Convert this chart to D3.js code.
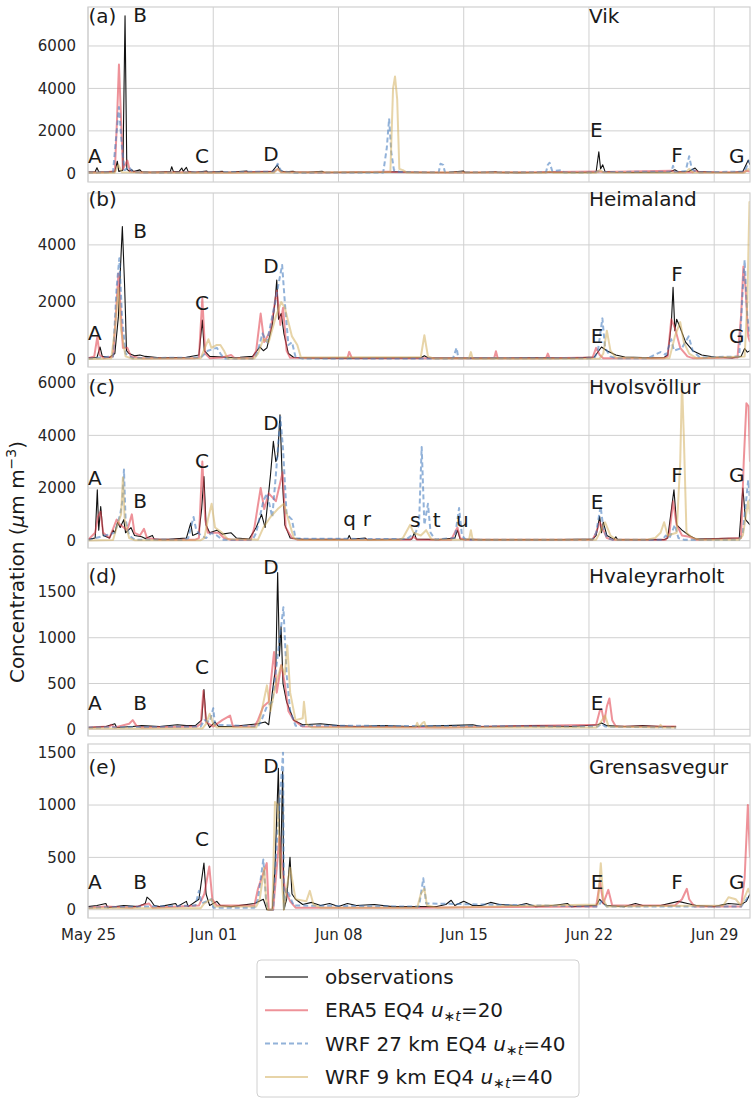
<!DOCTYPE html>
<html><head><meta charset="utf-8">
<script src="https://cdn.jsdelivr.net/npm/d3@7"></script>
<style>body{margin:0;background:#fff} text{font-family:"DejaVu Sans",sans-serif}</style>
</head><body><svg id="c" width="754" height="1101"></svg>
<script>
// ---------- axis data ----------
const tickDays=[0,7,14,21,28,35];
const tickLabels=["May 25","Jun 01","Jun 08","Jun 15","Jun 22","Jun 29"];
const stations=["Vik","Heimaland","Hvolsvöllur","Hvaleyrarholt","Grensasvegur"];
const panelTags=["(a)","(b)","(c)","(d)","(e)"];
const yTicksA=[0,2000,4000,6000], yTicksB=[0,2000,4000], yTicksC=[0,2000,4000,6000], yTicksD=[0,500,1000,1500], yTicksE=[0,500,1000,1500];
const titleValues=[7090,5344,5560,1594,1297];

// ---------- series: [day since May 25, concentration] ----------
// (a) Vik
const vikObs=[[0,60],[0.4,70],[0.5,260],[0.6,70],[1.0,60],[1.5,80],[1.64,570],[1.72,90],[1.95,150],[2.07,7420],[2.17,200],[2.3,100],[2.44,170],[2.55,80],[2.9,160],[3.0,70],[3.5,50],[4.0,60],[4.6,80],[4.68,310],[4.78,70],[5.1,90],[5.24,250],[5.32,90],[5.5,280],[5.6,80],[6.0,50],[6.63,110],[6.7,50],[7.52,90],[7.6,50],[8.0,60],[8.87,110],[8.95,60],[9.5,70],[10.3,90],[10.58,390],[10.75,120],[11.0,70],[11.46,100],[11.6,60],[12.3,50],[13.1,90],[13.2,50],[14,40],[15,50],[16,40],[16.8,60],[17.2,70],[18,50],[19,40],[20.2,50],[20.98,110],[21.05,40],[22.0,40],[22.8,70],[22.9,40],[24,30],[25,40],[25.8,60],[26.5,50],[27.5,40],[28.4,60],[28.55,1010],[28.65,200],[28.77,400],[28.9,80],[29.5,50],[30.5,40],[31.5,50],[32.5,60],[32.8,170],[33.0,60],[33.6,100],[33.93,250],[34.1,80],[35,50],[36,40],[36.6,80],[36.9,620],[37,400]];
const vikEra5=[[0,40],[1.0,50],[1.5,100],[1.62,2500],[1.73,5130],[1.85,2500],[1.95,200],[2.2,600],[2.35,80],[3,40],[5,50],[8,40],[10.4,80],[10.6,200],[10.8,60],[13,40],[16.8,70],[17,60],[20,40],[25,50],[28.5,80],[28.8,60],[32.6,120],[32.8,60],[33.8,50],[33.9,120],[34.2,50],[36.6,50],[36.8,120],[37,80]];
const vikWrf27=[[0,30],[1.4,60],[1.55,1500],[1.73,3120],[1.9,1200],[2.05,150],[2.3,300],[2.5,50],[4,30],[10.4,80],[10.6,450],[10.8,100],[11.5,30],[16.5,40],[16.7,1200],[16.83,2580],[16.95,1000],[17.1,150],[17.4,60],[19.6,50],[19.7,450],[19.85,400],[19.95,50],[25.6,50],[25.7,400],[25.8,500],[25.95,100],[26.5,150],[26.6,40],[28.3,40],[28.5,100],[28.7,60],[32.6,80],[32.7,350],[32.8,60],[33.4,100],[33.6,800],[33.75,200],[34,50],[36.7,80],[36.95,600],[37,500]];
const vikWrf9=[[0,20],[1.5,30],[1.7,400],[1.9,50],[5,30],[10.4,30],[10.6,200],[10.8,40],[16.9,60],[17.05,4000],[17.16,4560],[17.28,3500],[17.4,200],[17.6,150],[17.8,40],[25.6,30],[25.8,80],[26,30],[28.4,30],[28.6,150],[28.8,40],[33.4,30],[33.6,200],[33.8,40],[36.7,30],[36.9,200],[37,150]];
// (b) Heimaland
const heiObs=[[0,50],[0.5,60],[0.67,430],[0.8,100],[1.2,60],[1.5,200],[1.7,1500],[1.8,3000],[1.92,4640],[2.05,2500],[2.1,1480],[2.15,300],[2.3,200],[2.6,120],[2.9,150],[3.2,100],[3.6,80],[4.0,50],[5.5,70],[6.2,150],[6.39,1370],[6.5,300],[6.8,100],[7.5,80],[8.0,60],[8.5,70],[9.2,100],[9.6,430],[9.8,300],[10.0,400],[10.3,1200],[10.45,2000],[10.55,2770],[10.65,1400],[10.8,1600],[10.95,900],[11.2,200],[11.5,60],[13,40],[15,40],[18,50],[18.6,50],[18.8,120],[19,50],[22,40],[25,50],[27,40],[28.3,80],[28.55,300],[28.7,430],[29.0,300],[29.5,150],[30,80],[31.5,50],[32.2,60],[32.4,150],[32.6,1200],[32.7,2515],[32.8,1000],[32.9,1400],[33.1,1100],[33.4,600],[33.8,300],[34.3,150],[35,80],[36,50],[36.5,100],[36.7,375],[36.85,250],[37,300]];
const heiEra5=[[0,30],[0.35,100],[0.52,780],[0.65,150],[0.9,40],[1.4,100],[1.55,1500],[1.7,3000],[1.85,1500],[1.95,400],[2.2,400],[2.4,100],[3,40],[6.0,40],[6.2,60],[6.39,2130],[6.55,200],[6.8,40],[7.5,60],[8.0,150],[8.2,40],[9.2,40],[9.4,300],[9.65,1600],[9.85,600],[10.2,1000],[10.55,2400],[10.75,1200],[10.9,1800],[11.1,300],[11.3,50],[14.5,40],[14.6,260],[14.75,40],[20.5,40],[22.7,40],[22.8,280],[22.9,40],[25.6,40],[25.7,200],[25.8,40],[28.2,60],[28.4,400],[28.6,150],[28.8,40],[32.2,40],[32.4,100],[32.6,1400],[32.8,1100],[33.1,400],[33.5,100],[33.8,40],[36.3,60],[36.5,1500],[36.63,3240],[36.75,2500],[36.9,800],[37,600]];
const heiWrf27=[[0,20],[1.4,100],[1.6,2500],[1.75,3530],[1.9,1500],[2.1,200],[2.5,40],[6.3,60],[6.45,150],[6.7,300],[7.2,400],[7.4,200],[7.6,30],[9.3,30],[9.5,300],[9.75,900],[10.0,600],[10.4,1800],[10.85,3300],[11.0,2000],[11.2,500],[11.4,600],[11.6,80],[12,30],[20.4,30],[20.6,400],[20.7,40],[28.3,40],[28.5,300],[28.75,1430],[28.9,400],[29.2,100],[29.5,40],[31.3,40],[31.5,100],[32.0,250],[32.3,150],[32.6,700],[32.75,300],[33.2,400],[33.57,800],[33.8,300],[34.2,60],[36.4,100],[36.6,2500],[36.7,3470],[36.85,1500],[37,800]];
const heiWrf9=[[0,10],[1.3,30],[1.5,1000],[1.7,2500],[1.85,1000],[2.1,100],[2.5,20],[6.3,40],[6.6,500],[6.73,700],[6.9,400],[7.2,500],[7.4,500],[7.6,300],[7.8,30],[9.3,30],[9.5,200],[9.8,700],[10.1,600],[10.5,1500],[10.8,2000],[11.0,1800],[11.4,800],[11.7,500],[11.9,60],[18.6,80],[18.8,840],[19.0,100],[19.3,30],[21.3,40],[21.4,250],[21.5,20],[28.6,30],[28.8,200],[29.0,1000],[29.2,300],[29.5,60],[31.5,40],[32.5,40],[32.8,800],[33.1,1300],[33.3,600],[33.6,200],[34,40],[36.7,100],[36.85,2000],[36.97,5500],[37,5400]];
// (c) Hvolsvöllur
const hvoObs=[[0,50],[0.4,100],[0.52,1935],[0.6,400],[0.71,1300],[0.85,200],[1.2,100],[1.4,400],[1.5,300],[1.65,700],[1.8,500],[2.0,800],[2.1,300],[2.4,500],[2.6,200],[3.0,150],[3.2,80],[3.6,200],[3.7,60],[4.5,50],[5.5,100],[5.74,670],[5.85,200],[6.2,300],[6.35,1200],[6.48,2440],[6.6,600],[6.8,300],[7.2,400],[7.5,250],[8.0,300],[8.3,100],[9.0,60],[9.4,500],[9.7,1000],[9.9,500],[10.2,2500],[10.36,3770],[10.5,3000],[10.6,3200],[10.73,4780],[10.85,2500],[11.0,600],[11.3,100],[12,50],[14.5,50],[14.6,200],[14.7,50],[15.5,100],[15.6,40],[18.1,60],[18.24,300],[18.35,60],[19.6,40],[20.5,100],[20.65,400],[20.8,60],[22,40],[26.5,40],[27.5,50],[28.2,50],[28.4,200],[28.6,920],[28.7,300],[28.8,700],[29.0,200],[29.4,50],[29.5,150],[29.6,40],[32.2,40],[32.4,100],[32.75,1935],[32.9,600],[33.2,400],[33.6,200],[34,60],[36.4,100],[36.6,2000],[36.75,800],[37,600]];
const hvoEra5=[[0,30],[0.4,300],[0.55,900],[0.7,1100],[0.85,300],[1.2,100],[1.6,800],[1.8,600],[2.2,400],[2.45,1000],[2.6,300],[2.9,200],[3.13,450],[3.3,100],[4,40],[6.0,40],[6.2,100],[6.39,3010],[6.55,800],[6.7,300],[7.3,300],[7.6,100],[8,40],[9.1,40],[9.3,500],[9.65,2000],[9.85,1200],[10.1,1800],[10.5,1500],[10.88,2600],[11.05,500],[11.4,100],[11.7,40],[18.0,40],[18.2,150],[18.4,40],[20.3,40],[20.5,300],[20.65,500],[20.8,100],[21,40],[28.2,40],[28.4,300],[28.6,700],[28.8,400],[29.0,100],[29.3,40],[32.3,40],[32.5,300],[32.7,1500],[32.9,600],[33.2,200],[33.6,150],[34,40],[36.5,100],[36.65,3000],[36.8,5220],[36.92,5100],[37,3000]];
const hvoWrf27=[[0,20],[1.5,300],[1.8,1000],[1.92,1500],[2.01,2700],[2.1,800],[2.3,200],[2.6,40],[5.4,30],[5.6,100],[5.9,900],[6.05,400],[6.3,200],[6.6,100],[6.9,300],[7.2,200],[7.5,40],[9.2,40],[9.4,300],[9.8,1500],[10.0,1800],[10.3,900],[10.5,2500],[10.75,4700],[10.9,3500],[11.1,1000],[11.4,800],[11.6,80],[17.8,60],[18.3,300],[18.5,600],[18.65,3560],[18.8,600],[19.0,1400],[19.15,300],[19.4,50],[20.5,100],[20.74,1240],[20.9,200],[21.1,40],[28.2,40],[28.4,300],[28.65,1300],[28.8,500],[29.0,100],[29.3,40],[32.1,40],[32.3,200],[32.5,100],[32.8,600],[33.0,100],[33.3,40],[36.4,40],[36.6,300],[36.9,2300],[37,1500]];
const hvoWrf9=[[0,10],[1.4,30],[1.6,500],[1.85,1000],[1.95,2400],[2.05,800],[2.3,100],[2.6,20],[6.3,20],[6.5,100],[6.7,800],[6.91,1400],[7.1,500],[7.5,300],[7.8,60],[9.5,40],[9.8,500],[10.2,900],[10.6,1200],[10.95,1400],[11.2,800],[11.5,100],[11.8,30],[17.4,30],[17.6,100],[18.0,600],[18.2,300],[18.6,200],[18.9,400],[19.2,50],[20.5,40],[21.3,50],[21.4,400],[21.5,40],[28.4,40],[28.6,300],[28.9,700],[29.2,200],[29.5,40],[31.3,50],[31.7,100],[32.0,300],[32.2,700],[32.4,200],[32.9,300],[33.1,3000],[33.2,6050],[33.3,4000],[33.45,300],[33.8,100],[34.2,40],[36.4,40],[36.6,200],[36.9,1500],[37,1000]];
// (d) Hvaleyrarholt
const hvaObs=[[0,20],[1,30],[1.5,60],[1.6,20],[2.5,30],[3,40],[4,30],[5.0,50],[5.5,40],[6.0,40],[6.35,100],[6.48,435],[6.6,100],[6.8,20],[7.1,80],[7.3,30],[8,30],[9.5,60],[9.9,80],[10.1,50],[10.3,400],[10.5,700],[10.6,1713],[10.7,800],[10.79,1120],[10.9,500],[11.1,300],[11.3,200],[11.5,100],[12,50],[13,60],[14,40],[15,30],[16.5,40],[18,30],[20,40],[21.5,50],[22,30],[25,40],[27,30],[28.5,50],[28.7,70],[29,40],[30,30],[31,40],[32,30],[32.87,30]];
const hvaEra5=[[0,20],[1.2,30],[1.3,50],[1.5,20],[2.3,60],[2.5,100],[2.7,40],[3,20],[6.1,30],[6.3,60],[6.45,420],[6.6,80],[7.0,30],[7.5,100],[7.94,150],[8.1,30],[9.3,30],[9.5,100],[9.8,250],[10.1,300],[10.4,845],[10.55,400],[10.8,700],[11.0,500],[11.2,200],[11.5,100],[12,30],[20,20],[28.4,50],[28.6,200],[28.7,220],[28.85,80],[29.0,250],[29.14,337],[29.3,100],[29.5,30],[32.87,30]];
const hvaWrf27=[[0,20],[6.3,30],[6.5,100],[6.8,80],[7.0,230],[7.1,50],[9.5,30],[9.7,100],[10.0,250],[10.3,300],[10.6,800],[10.92,1333],[11.1,600],[11.3,200],[11.6,40],[28.5,30],[28.7,60],[28.9,30],[32.87,20]];
const hvaWrf9=[[0,10],[6.4,10],[6.6,60],[6.8,170],[7.0,60],[7.2,20],[9.4,20],[9.6,100],[10.0,480],[10.2,200],[10.5,500],[10.8,700],[11.0,600],[11.14,916],[11.3,400],[11.6,100],[12.0,120],[12.07,300],[12.2,60],[12.5,20],[18.3,20],[18.4,70],[18.5,20],[18.7,70],[18.8,80],[18.9,20],[28.4,20],[28.6,60],[28.9,150],[29.1,30],[31.9,20],[32.0,50],[32.1,20],[32.87,20]];
// (e) Grensasvegur
const greObs=[[0,30],[0.5,40],[1,60],[1.1,20],[2,40],[2.8,30],[3.2,60],[3.3,120],[3.5,90],[3.7,40],[4,30],[4.9,60],[5.0,30],[5.5,80],[5.6,30],[6.2,100],[6.48,445],[6.6,150],[6.8,40],[7.2,80],[7.4,40],[8,30],[9.3,60],[9.8,100],[10.0,0],[10.3,0],[10.45,400],[10.64,1350],[10.75,300],[10.88,1320],[10.95,0],[11.1,100],[11.29,500],[11.4,150],[11.6,100],[12,50],[12.5,70],[13,40],[13.5,60],[14,30],[14.5,60],[15,40],[16,50],[17,30],[18.5,30],[19.5,30],[20,50],[20.3,90],[20.5,40],[21,80],[21.5,40],[22,40],[22.5,70],[23,50],[24,40],[24.5,60],[25,30],[26,40],[26.8,60],[27,30],[28.4,40],[28.6,100],[28.8,60],[29,40],[30,30],[30.6,60],[31,40],[32,40],[33,80],[33.5,60],[34,40],[35,30],[35.8,60],[36.5,50],[36.8,80],[37,150]];
const greEra5=[[0,20],[1,30],[2.5,20],[3.4,60],[3.6,20],[6.2,40],[6.5,150],[6.78,413],[6.95,100],[7.2,40],[9.3,40],[9.5,200],[9.99,445],[10.1,0],[10.35,0],[10.5,300],[10.7,700],[10.8,500],[11.0,200],[11.3,80],[11.6,20],[18.5,20],[28.4,30],[28.62,270],[28.8,60],[29.08,190],[29.3,40],[32.8,40],[33.2,100],[33.47,200],[33.6,100],[33.9,30],[36.5,30],[36.7,300],[36.88,1000],[37,500]];
const greWrf27=[[0,20],[6.0,40],[6.2,180],[6.35,60],[6.9,100],[7.0,20],[9.3,20],[9.5,100],[9.8,480],[9.95,100],[10.05,0],[10.35,0],[10.5,500],[10.9,1500],[10.95,0],[11.1,200],[11.5,40],[18.5,30],[18.74,300],[18.9,60],[28.5,30],[28.7,80],[29,30],[36.5,30],[36.8,100],[37,150]];
const greWrf9=[[0,15],[6.3,15],[6.5,60],[6.9,100],[7.1,30],[9.4,30],[9.6,100],[9.85,400],[9.95,100],[10.05,0],[10.3,0],[10.45,1030],[10.6,1000],[10.7,600],[10.95,0],[11.1,200],[11.3,400],[11.6,100],[12.2,80],[12.4,180],[12.6,50],[13,20],[18.4,20],[18.6,150],[18.8,200],[18.95,40],[19.5,20],[28.5,50],[28.66,445],[28.8,100],[29.0,30],[35.5,40],[35.8,120],[36.2,100],[36.5,40],[36.9,200],[37,150]];

// ---------- event annotations: [label, day, value] ----------
const vikNotes=[["A",0,470],["B",2.53,7150],["C",5.98,470],["D",9.8,575],["E",28.06,1690],["F",32.6,515],["G",35.83,480]];
const heiNotes=[["A",0,690],["B",2.53,4235],["C",5.98,1720],["D",9.8,3010],["E",28.1,585],["F",32.6,2750],["G",35.83,585]];
const hvoNotes=[["A",0,2125],["B",2.53,1240],["C",5.98,2760],["D",9.8,4185],["q",14.27,540],["r",15.35,540],["s",18.0,520],["t",19.27,520],["u",20.57,520],["E",28.1,1215],["F",32.6,2215],["G",35.83,2215]];
const hvaNotes=[["A",0,210],["B",2.53,210],["C",5.98,609],["D",9.8,1696],["E",28.1,210]];
const greNotes=[["A",0,197],["B",2.53,197],["C",5.98,604],["D",9.8,1304],["E",28.1,197],["F",32.6,197],["G",35.83,197]];

// ---------- layout ----------
const X0=88, X1=750;
const panels=[
 {top:7,bottom:182,dom:[-410,7837],ticks:yTicksA,series:[vikObs,vikEra5,vikWrf27,vikWrf9],notes:vikNotes},
 {top:193,bottom:367,dom:[-270,5814],ticks:yTicksB,series:[heiObs,heiEra5,heiWrf27,heiWrf9],notes:heiNotes},
 {top:374,bottom:548,dom:[-277,6330],ticks:yTicksC,series:[hvoObs,hvoEra5,hvoWrf27,hvoWrf9],notes:hvoNotes},
 {top:563,bottom:736,dom:[-73,1816],ticks:yTicksD,series:[hvaObs,hvaEra5,hvaWrf27,hvaWrf9],notes:hvaNotes},
 {top:744,bottom:918,dom:[-79,1583],ticks:yTicksE,series:[greObs,greEra5,greWrf27,greWrf9],notes:greNotes}
];
const styles=[
 {stroke:"#111111",width:1.1,opacity:1,dash:null},
 {stroke:"#e34a55",width:2,opacity:0.6,dash:null},
 {stroke:"#4a7fc0",width:2,opacity:0.6,dash:"5,3"},
 {stroke:"#d4b060",width:2,opacity:0.55,dash:null}
];
const drawOrder=[0,1,2,3];

const t0=Date.UTC(2019,4,25);
const toDate=d=>new Date(t0+d*864e5);
const x=d3.scaleUtc().domain([toDate(0),toDate(37)]).range([X0,X1]);
const svg=d3.select("#c");
const grid="#d0d0d0", txt="#262626";

panels.forEach((p,i)=>{
  const y=d3.scaleLinear().domain(p.dom).range([p.bottom,p.top]);
  const g=svg.append("g");
  g.append("clipPath").attr("id","clip"+i).append("rect").attr("x",X0).attr("y",p.top).attr("width",X1-X0).attr("height",p.bottom-p.top);
  g.selectAll(".hg").data(p.ticks).join("line").attr("x1",X0).attr("x2",X1).attr("y1",v=>y(v)).attr("y2",v=>y(v)).attr("stroke",grid).attr("stroke-width",1);
  g.selectAll(".vg").data(tickDays).join("line").attr("y1",p.top).attr("y2",p.bottom).attr("x1",d=>x(toDate(d))).attr("x2",d=>x(toDate(d))).attr("stroke",grid).attr("stroke-width",1);
  const ya=d3.axisLeft(y).tickValues(p.ticks).tickSize(0).tickPadding(12).tickFormat(d3.format("d"));
  const ag=g.append("g").attr("transform",`translate(${X0},0)`).call(ya);
  ag.select(".domain").remove();
  ag.selectAll("text").attr("font-size",15).attr("fill",txt).attr("font-family","DejaVu Sans");
  const line=d3.line().x(d=>x(toDate(d[0]))).y(d=>y(d[1]));
  const lg=g.append("g").attr("clip-path",`url(#clip${i})`);
  drawOrder.forEach(k=>{
    const s=styles[k];
    lg.append("path").datum(p.series[k]).attr("d",line).attr("fill","none")
      .attr("stroke",s.stroke).attr("stroke-width",s.width).attr("stroke-opacity",s.opacity)
      .attr("stroke-dasharray",s.dash).attr("stroke-linejoin","round");
  });
  g.append("rect").attr("x",X0).attr("y",p.top).attr("width",X1-X0).attr("height",p.bottom-p.top).attr("fill","none").attr("stroke",grid).attr("stroke-width",1.2);
  g.selectAll(".note").data(p.notes).join("text").attr("x",d=>x(toDate(d[1]))).attr("y",d=>y(d[2]))
    .attr("font-size",20).attr("fill","#1a1a1a").text(d=>d[0]);
  g.append("text").attr("x",x(toDate(0.03))).attr("y",y(titleValues[i])).attr("font-size",20).attr("fill","#1a1a1a").text(panelTags[i]);
  g.append("text").attr("x",x(toDate(28))).attr("y",y(titleValues[i])).attr("font-size",20).attr("fill","#1a1a1a").text(stations[i]);
  if(i===panels.length-1){
    const xa=d3.axisBottom(x).tickValues(tickDays.map(toDate)).tickSize(0).tickPadding(11).tickFormat((d,j)=>tickLabels[j]);
    const xg=g.append("g").attr("transform",`translate(0,${p.bottom})`).call(xa);
    xg.select(".domain").remove();
    xg.selectAll("text").attr("font-size",15).attr("fill",txt).attr("font-family","DejaVu Sans");
  }
});

// y label
const yl=svg.append("text").attr("transform","translate(24,562) rotate(-90)").attr("text-anchor","middle").attr("font-size",20).attr("fill","#1a1a1a");
yl.append("tspan").text("Concentration (");
yl.append("tspan").attr("font-style","italic").text("μ");
yl.append("tspan").text("m m");
yl.append("tspan").attr("font-size",14).attr("dy",-8).text("−3");
yl.append("tspan").attr("dy",8).text(")");

// legend
const legNames=[["observations"],["ERA5 EQ4 ","=20"],["WRF 27 km EQ4 ","=40"],["WRF 9 km EQ4 ","=40"]];
const lgd=svg.append("g");
lgd.append("rect").attr("x",257).attr("y",960).attr("width",322).attr("height",137).attr("rx",4).attr("fill","#fff").attr("stroke","#d0d0d0").attr("stroke-width",1);
legNames.forEach((n,k)=>{
  const yy=977+k*33.3;
  const s=styles[k];
  lgd.append("line").attr("x1",265).attr("x2",308).attr("y1",yy).attr("y2",yy)
    .attr("stroke",k===0?"#444":s.stroke).attr("stroke-width",k===0?1.3:2).attr("stroke-opacity",k===0?1:s.opacity).attr("stroke-dasharray",s.dash);
  const t=lgd.append("text").attr("x",325).attr("y",yy+7).attr("font-size",20).attr("fill","#1a1a1a");
  t.append("tspan").text(n[0]);
  if(n.length>1){
    t.append("tspan").attr("font-style","italic").text("u");
    t.append("tspan").attr("font-size",14).attr("dy",4).attr("font-style","italic").text("∗t");
    t.append("tspan").attr("dy",-4).text(n[1]);
  }
});
</script></body></html>
